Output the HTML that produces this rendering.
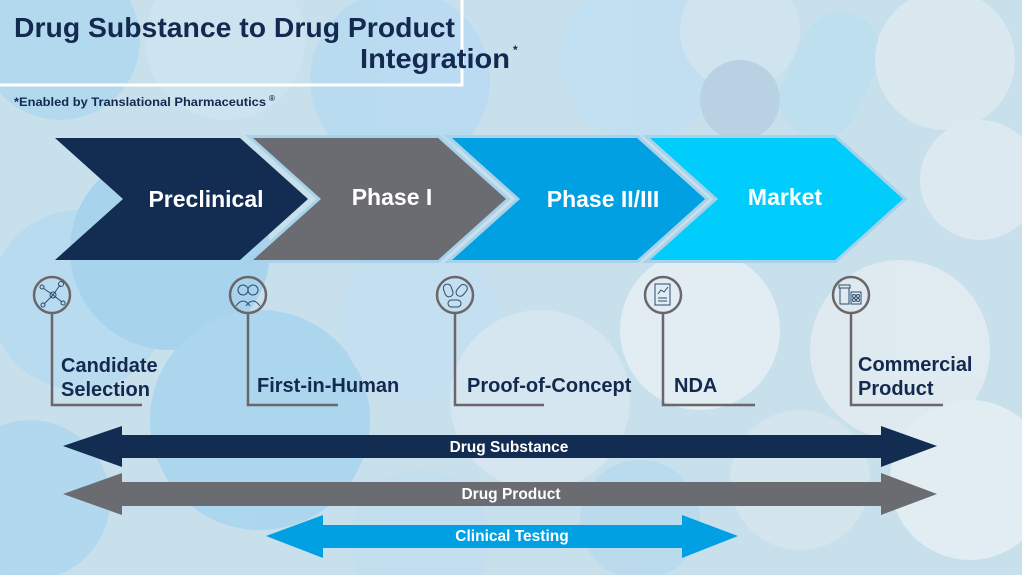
<!DOCTYPE html>
<html><head><meta charset="utf-8"><style>
html,body{margin:0;padding:0;width:1022px;height:575px;overflow:hidden}
svg{display:block;overflow:hidden}
text{font-family:"Liberation Sans",sans-serif;font-weight:bold}
</style></head><body>
<svg width="1022" height="575" viewBox="0 0 1022 575" xmlns="http://www.w3.org/2000/svg">
<rect width="1022" height="575" fill="#bcd8e8"/>
<g opacity="0.85">
<circle cx="60" cy="40" r="80" fill="#9fd0ec"/>
<circle cx="225" cy="40" r="80" fill="#c4e0ef"/>
<circle cx="400" cy="80" r="90" fill="#a8d4ee"/>
<circle cx="640" cy="60" r="80" fill="#b3d9ee"/>
<circle cx="740" cy="30" r="60" fill="#c8e1ee"/>
<circle cx="740" cy="100" r="40" fill="#a6c6dc"/>
<rect x="790" y="10" width="80" height="130" rx="40" fill="#afd8ec" transform="rotate(25 830 75)"/>
<circle cx="945" cy="60" r="70" fill="#d6e6ee"/>
<circle cx="980" cy="180" r="60" fill="#dbe8ee"/>
<circle cx="80" cy="300" r="90" fill="#a6d3ee"/>
<circle cx="170" cy="250" r="100" fill="#8ec8ea"/>
<circle cx="260" cy="420" r="110" fill="#95cbec"/>
<circle cx="420" cy="320" r="80" fill="#b7dbee"/>
<circle cx="540" cy="400" r="90" fill="#cfe3ee"/>
<circle cx="700" cy="330" r="80" fill="#e1ecf1"/>
<circle cx="640" cy="520" r="60" fill="#a9d2ea"/>
<circle cx="900" cy="350" r="90" fill="#dde9ef"/>
<circle cx="970" cy="480" r="80" fill="#e2edf2"/>
<circle cx="800" cy="480" r="70" fill="#cfe2ec"/>
<circle cx="30" cy="500" r="80" fill="#9ccfec"/>
<circle cx="420" cy="540" r="70" fill="#b5d8ec"/>
</g>
<rect width="1022" height="575" fill="#ffffff" opacity="0.18"/>
<polyline points="462,0 462,85 0,85" fill="none" stroke="#fff" stroke-width="3"/>
<text x="14" y="37" font-size="28" fill="#13294f" textLength="441" lengthAdjust="spacingAndGlyphs">Drug Substance to Drug Product</text>
<text x="360" y="68" font-size="28" fill="#13294f" textLength="150" lengthAdjust="spacingAndGlyphs">Integration</text>
<text x="513" y="54" font-size="12" fill="#13294f">*</text>
<text x="14" y="106" font-size="12" fill="#13294f" textLength="252" lengthAdjust="spacingAndGlyphs">*Enabled by Translational Pharmaceutics</text>
<text x="269" y="101" font-size="8" fill="#13294f">®</text>
<g stroke="#a7d2ea" stroke-width="6" paint-order="stroke" stroke-linejoin="miter">
<polygon points="55,138 240,138 308,199 240,260 55,260 123,199" fill="#132d52" stroke="none"/>
<polygon points="253,138 438,138 506,199 438,260 253,260 321,199" fill="#6b6c72"/>
<polygon points="452,138 637,138 705,199 637,260 452,260 520,199" fill="#00a0e3"/>
<polygon points="650,138 835,138 903,199 835,260 650,260 718,199" fill="#00cdfb"/>
</g>
<g font-size="23" fill="#fff" text-anchor="middle">
<text x="206" y="207">Preclinical</text>
<text x="392" y="205">Phase I</text>
<text x="603" y="207">Phase II/III</text>
<text x="785" y="205">Market</text>
</g>
<g fill="none" stroke="#6b6669" stroke-width="2.5">
<circle cx="52" cy="295" r="18"/><polyline points="52,313 52,405 142,405"/>
<circle cx="248" cy="295" r="18"/><polyline points="248,313 248,405 338,405"/>
<circle cx="455" cy="295" r="18"/><polyline points="455,313 455,405 544,405"/>
<circle cx="663" cy="295" r="18"/><polyline points="663,313 663,405 755,405"/>
<circle cx="851" cy="295" r="18"/><polyline points="851,313 851,405 943,405"/>
</g>
<g fill="none" stroke="#2d4a70" stroke-width="1">
<circle cx="53" cy="295" r="3"/><line x1="53" y1="295" x2="43" y2="288"/><line x1="53" y1="295" x2="60" y2="285"/><line x1="53" y1="295" x2="44" y2="304"/><line x1="53" y1="295" x2="62" y2="302"/>
<circle cx="42" cy="287" r="2"/><circle cx="61" cy="284" r="2.5"/><circle cx="43" cy="305" r="2"/><circle cx="63" cy="303" r="2"/>
<circle cx="243" cy="290" r="5"/><circle cx="253" cy="290" r="5"/><path d="M236 306 q7-10 14 0 M246 306 q7-10 14 0"/>
<rect x="444" y="284" width="8" height="13" rx="4" transform="rotate(-20 448 290)"/><rect x="458" y="284" width="8" height="13" rx="4" transform="rotate(40 462 290)"/><rect x="448" y="300" width="13" height="7" rx="3.5"/>
<rect x="655" y="284" width="15" height="21"/><polyline points="658,294 661,290 664,292 668,287"/><line x1="658" y1="298" x2="667" y2="298"/><line x1="658" y1="301" x2="667" y2="301"/>
<rect x="840" y="288" width="9" height="16"/><rect x="839" y="285" width="11" height="3"/><rect x="851" y="292" width="10" height="12"/><circle cx="854" cy="296" r="1.5"/><circle cx="858" cy="296" r="1.5"/><circle cx="854" cy="300" r="1.5"/><circle cx="858" cy="300" r="1.5"/>
</g>
<g font-size="20" fill="#13294f">
<text x="61" y="372">Candidate</text>
<text x="61" y="396">Selection</text>
<text x="257" y="392">First-in-Human</text>
<text x="467" y="392">Proof-of-Concept</text>
<text x="674" y="392">NDA</text>
<text x="858" y="371">Commercial</text>
<text x="858" y="395">Product</text>
</g>
<polygon points="63,446 122,426 122,435 881,435 881,426 937,446 881,467 881,458 122,458 122,467" fill="#132d52"/>
<polygon points="63,494 122,473 122,482 881,482 881,473 937,494 881,515 881,506 122,506 122,515" fill="#6b6c72"/>
<polygon points="266,536 323,515 323,525 682,525 682,515 738,536 682,558 682,548 323,548 323,558" fill="#00a0e3"/>
<g font-size="15.5" fill="#fff" text-anchor="middle">
<text x="509" y="452">Drug Substance</text>
<text x="511" y="499">Drug Product</text>
<text x="512" y="541">Clinical Testing</text>
</g>
</svg>
</body></html>
